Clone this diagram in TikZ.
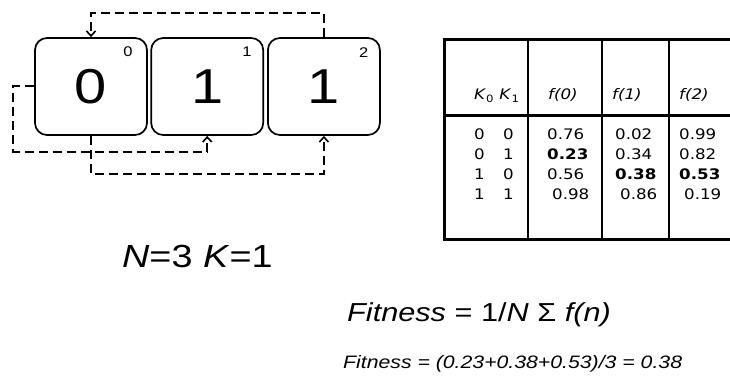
\documentclass[tikz,border=0pt]{standalone}
\usepackage{fontspec}
\setmainfont{Liberation Sans}[FakeStretch=1.18]
\newfontfamily\tabfont{DejaVu Sans}[FakeStretch=1.15]
\usetikzlibrary{arrows.meta,positioning}

\tikzset{
  bit/.style={draw, rounded corners=12pt, line width=1.7pt, minimum width=112pt,
    minimum height=97pt, inner sep=0pt, font=\fontsize{49}{52}\selectfont},
  idx/.style={inner sep=0pt, font=\fontsize{14}{16}\selectfont},
  link/.style={line width=2pt, dash pattern=on 9pt off 5pt,
    -{Straight Barb[length=5pt,width=9pt,line width=1.6pt]}},
  tabline/.style={line width=3pt},
  colline/.style={line width=1.2pt},
  cell/.style={anchor=base west, inner sep=0pt, font=\tabfont\fontsize{14.5}{16}\selectfont},
}

\begin{document}
\begin{tikzpicture}[x=1pt,y=1pt]
  \useasboundingbox (0,0) rectangle (730,385);

  % the three bits
  \node[bit] (box0) at (91,298.5) {0};
  \node[bit, right=2.5pt of box0] (box1) {1};
  \node[bit, right=3pt of box1] (box2) {1};
  \node[idx] (idx0) at ([xshift=-20pt,yshift=-15pt]box0.north east) {0};
  \node[idx] (idx1) at ([xshift=-17pt,yshift=-15pt]box1.north east) {1};
  \node[idx] (idx2) at ([xshift=-17pt,yshift=-15pt]box2.north east) {2};

  % epistatic links
  \draw[link] (box2.north) -- ++(0,24) -| (box0.north);
  \draw[link] (box0.west) -- ++(-21,0) |- ([yshift=-16pt]box1.south) -- (box1.south);
  \draw[link] (box0.south) -- ++(0,-38) -| (box2.south);

  \node[anchor=base west, inner sep=0pt, font=\fontsize{32}{36}\selectfont] (nk) at (122,117)
    {\textit{N}=3 \textit{K}=1};

  % fitness table
  \draw[tabline] (731,345) -- (444,345) -- (444,145) -- (731,145);
  \draw[tabline] (444,269) -- (731,269);
  \foreach \x in {528,602,669}
    \draw[colline] (\x,345) -- (\x,145);

  \node[cell] (hk) at (474,285) {\textit{K}\textsubscript{0} \textit{K}\textsubscript{1}};
  \node[cell] (hf0) at (548,285) {\textit{f(0)}};
  \node[cell] (hf1) at (612,285) {\textit{f(1)}};
  \node[cell] (hf2) at (679,285) {\textit{f(2)}};

  \foreach \ka/\kb/\fa/\fb/\fc/\dx [count=\i] in
    {0/0/0.76/0.02/0.99/0, 0/1/\textbf{0.23}/0.34/0.82/0,
     1/0/0.56/\textbf{0.38}/\textbf{0.53}/0, 1/1/0.98/0.86/0.19/5}{
    \pgfmathsetmacro\yb{265-20*\i}
    \node[cell] (ka\i) at (474,\yb) {\ka};
    \node[cell] (kb\i) at (503,\yb) {\kb};
    \node[cell] (fa\i) at (547+\dx,\yb) {\fa};
    \node[cell] (fb\i) at (615+\dx,\yb) {\fb};
    \node[cell] (fc\i) at (679+\dx,\yb) {\fc};
  }

  % fitness formula
  \node[anchor=base west, inner sep=0pt, font=\fontsize{26}{30}\selectfont] (fit) at (347,63)
    {\textit{Fitness} = 1/\textit{N} Σ \textit{f(n)}};
  \node[anchor=base west, inner sep=0pt, font=\fontsize{18}{21}\selectfont] (fitval) at (343,16)
    {\textit{Fitness = (0.23+0.38+0.53)/3 = 0.38}};
\end{tikzpicture}
\end{document}
